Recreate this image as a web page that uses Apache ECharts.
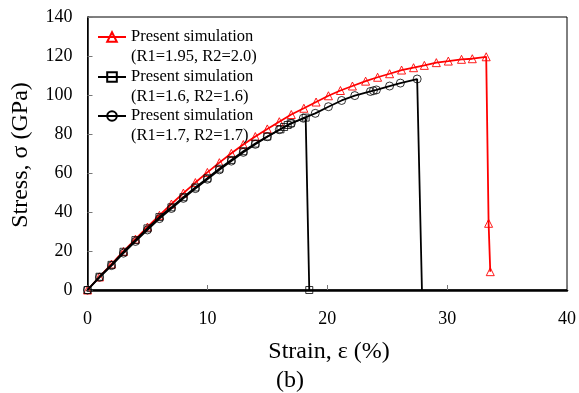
<!DOCTYPE html>
<html><head><meta charset="utf-8">
<script src="https://cdn.jsdelivr.net/npm/echarts@6/dist/echarts.min.js"></script>
<style>html,body{margin:0;padding:0;background:#fff}#c{width:579px;height:393px}</style>
</head><body><div id="c"></div>
<script>
// Series names
const nameA = 'Present simulation\n(R1=1.95, R2=2.0)';
const nameB = 'Present simulation\n(R1=1.6, R2=1.6)';
const nameC = 'Present simulation\n(R1=1.7, R2=1.7)';

// R1=1.95, R2=2.0 (red, triangles)
const strainA = [0,1,2,3,4,5,6,7,8,9,10,11,12,13,14,15,16,17,18.05,19.07,20.1,21.1,22.1,23.2,24.2,25.2,26.2,27.2,28.1,29.1,30.1,31.2,32.1,33.26,33.46,33.6];
const stressA = [0,6.7,13.3,19.8,26.1,32.3,38.3,44.1,49.7,55.1,60.3,65.3,70.1,74.6,78.7,82.6,86.3,90.0,93.2,96.4,99.6,102.3,104.6,107.1,109.1,110.9,112.8,114.0,115.2,116.6,117.4,118.3,118.6,119.6,34.2,9.4];

// R1=1.6, R2=1.6 (black, squares)
const strainB = [0,1,2,3,4,5,6,7,8,9,10,11,12,13,14,15,16.1,16.4,16.7,16.95,18.2,18.5];
const stressB = [0,6.8,12.9,19.6,25.6,31.6,37.4,42.4,47.6,52.6,57.3,62.2,66.7,71.2,75.1,78.7,82.4,83.6,84.6,85.5,88.4,0];

// R1=1.7, R2=1.7 (black, circles)
const strainC = [0,1,2,3,4,5,6,7,8,9,10,11,12,13,14,15,16,17,18,19,20.1,21.2,22.3,23.6,23.85,24.1,25.2,26.1,27.5,27.9];
const stressC = [0,6.5,12.5,18.9,24.9,30.8,36.6,41.8,47.0,52.0,56.8,61.6,66.1,70.6,74.7,78.6,82.2,85.4,88.1,90.6,94.0,97.2,99.7,101.8,102.2,102.6,104.6,106.1,108.2,0];
const noMarkerC = [29];

// Axis ticks
const xMin = 0, xMax = 40, xStep = 10;
const yMin = 0, yMax = 140, yStep = 20;

function pairs(xs, ys, hidden) {
  return xs.map((x, i) => {
    const d = { value: [x, ys[i]] };
    if (hidden && hidden.indexOf(i) >= 0) d.symbol = 'none';
    return d;
  });
}

const font = 'Liberation Serif';
const chart = echarts.init(document.getElementById('c'), null, { renderer: 'canvas' });

function legend(name, top) {
  return {
    data: [name], left: 97, top: top, padding: 0,
    itemWidth: 28, itemHeight: 12, itemGap: 0, selectedMode: false,
    formatter: n => ' \n' + n,
    textStyle: { fontFamily: font, fontSize: 16.5, color: '#000', lineHeight: 20 }
  };
}

chart.setOption({
  animation: false,
  backgroundColor: '#fff',
  grid: { left: 87.5, right: 9.5, top: 17, bottom: 103, show: true, borderColor: '#000', borderWidth: 1 },
  legend: [legend(nameA, 7), legend(nameB, 47), legend(nameC, 86)],
  xAxis: {
    type: 'value', min: xMin, max: xMax, interval: xStep,
    axisLine: { show: true, onZero: false, lineStyle: { color: '#000', width: 2.5 } },
    axisTick: { show: true, inside: true, length: 5, lineStyle: { color: '#777', width: 1 } },
    axisLabel: { margin: 20, fontFamily: font, fontSize: 18, color: '#000' },
    splitLine: { show: false }
  },
  yAxis: {
    type: 'value', min: yMin, max: yMax, interval: yStep,
    axisLine: { show: true, onZero: false, lineStyle: { color: '#000', width: 1.5 } },
    axisTick: { show: true, inside: true, length: 5, lineStyle: { color: '#777', width: 1 } },
    axisLabel: { margin: 15, fontFamily: font, fontSize: 18, color: '#000' },
    splitLine: { show: false }
  },
  graphic: [
    { type: 'text', style: { text: 'Strain, ε (%)', font: '24px "Liberation Serif"', fill: '#000', x: 329, y: 352, align: 'center', verticalAlign: 'middle' } },
    { type: 'text', style: { text: '(b)', font: '24px "Liberation Serif"', fill: '#000', x: 290, y: 381, align: 'center', verticalAlign: 'middle' } },
    { type: 'text', x: 21, y: 155, rotation: Math.PI / 2, style: { text: 'Stress, σ (GPa)', font: '24px "Liberation Serif"', fill: '#000', x: 0, y: 0, align: 'center', verticalAlign: 'middle' } }
  ],
  series: [
    {
      name: nameC, type: 'line', data: pairs(strainC, stressC, noMarkerC),
      symbol: 'circle', symbolSize: 8, showAllSymbol: true,
      lineStyle: { color: '#000', width: 1.8 },
      itemStyle: { color: 'rgba(255,255,255,0)', borderColor: '#000', borderWidth: 0.8 },
      z: 2
    },
    {
      name: nameB, type: 'line', data: pairs(strainB, stressB),
      symbol: 'rect', symbolSize: 7, showAllSymbol: true,
      lineStyle: { color: '#000', width: 1.8 },
      itemStyle: { color: 'rgba(255,255,255,0)', borderColor: '#000', borderWidth: 0.8 },
      z: 3
    },
    {
      name: nameA, type: 'line', data: pairs(strainA, stressA),
      symbol: 'triangle', symbolSize: 8, showAllSymbol: true,
      lineStyle: { color: '#ff0000', width: 1.8 },
      itemStyle: { color: 'rgba(255,255,255,0)', borderColor: '#ff0000', borderWidth: 0.9 },
      z: 1
    }
  ]
});
</script></body></html>
